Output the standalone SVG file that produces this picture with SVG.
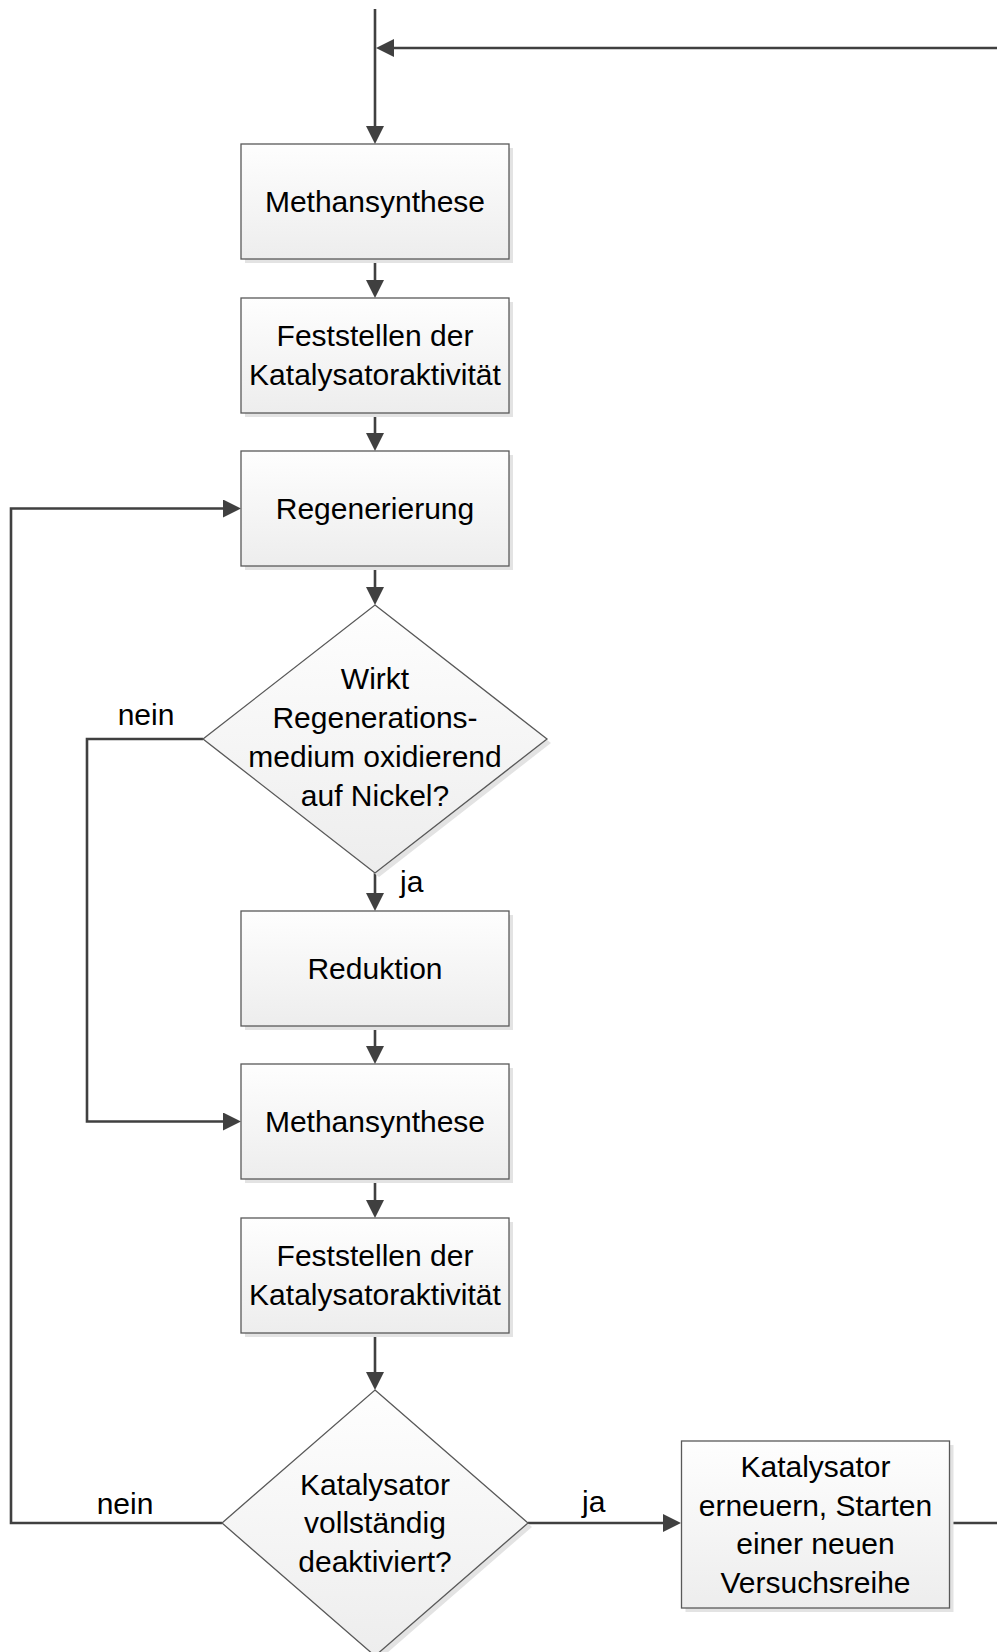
<svg xmlns="http://www.w3.org/2000/svg" width="997" height="1652" viewBox="0 0 997 1652">
  <defs>
    <linearGradient id="fill" x1="0" y1="0" x2="0" y2="1">
      <stop offset="0" stop-color="#fefefe"/>
      <stop offset="1" stop-color="#ededed"/>
    </linearGradient>
    <marker id="arrow" markerUnits="userSpaceOnUse" markerWidth="20" markerHeight="20" refX="10" refY="9" orient="auto">
      <path d="M0,0 L18,9 L0,18 Z" fill="#404040"/>
    </marker>
    <style>
      .shape { fill: url(#fill); stroke: #595959; stroke-width: 1.3; }
      .shadow { fill: #e3e3e3; stroke: none; }
      .conn { fill: none; stroke: #404040; stroke-width: 2.6; }
      .arr { marker-end: url(#arrow); }
      text { font-family: "Liberation Sans", Arial, sans-serif; font-size: 30px; fill: #000; }
      .c { text-anchor: middle; }
    </style>
  </defs>

  <rect width="997" height="1652" fill="#ffffff"/>

  <!-- connectors: line ends stop 8px short of the target, the marker tip covers the rest -->
  <g id="connectors">
    <path class="conn arr" d="M375,9 V136"/>
    <path class="conn arr" d="M997,48 H384"/>
    <path class="conn arr" d="M375,259 V290"/>
    <path class="conn arr" d="M375,413 V443"/>
    <path class="conn arr" d="M375,566 V597"/>
    <path class="conn arr" d="M375,873 V903"/>
    <path class="conn arr" d="M375,1026 V1056"/>
    <path class="conn arr" d="M375,1179 V1210"/>
    <path class="conn arr" d="M375,1333 V1382"/>
    <path class="conn arr" d="M203,739 H87 V1121.5 H233"/>
    <path class="conn arr" d="M222,1523 H11 V508.5 H233"/>
    <path class="conn arr" d="M528,1523 H673"/>
    <path class="conn" d="M950,1523 H997"/>
    <text x="146" y="725" class="c">nein</text>
    <text x="400" y="892">ja</text>
    <text x="125" y="1514" class="c">nein</text>
    <text x="582" y="1512">ja</text>
  </g>

  <g id="methansynthese-1">
    <rect class="shadow" x="245" y="148" width="268" height="115"/>
    <rect class="shape" x="241" y="144" width="268" height="115"/>
    <text x="375" y="212" class="c">Methansynthese</text>
  </g>

  <g id="aktivitaet-1">
    <rect class="shadow" x="245" y="302" width="268" height="115"/>
    <rect class="shape" x="241" y="298" width="268" height="115"/>
    <text x="375" y="346" class="c">Feststellen der</text>
    <text x="375" y="385" class="c">Katalysatoraktivität</text>
  </g>

  <g id="regenerierung">
    <rect class="shadow" x="245" y="455" width="268" height="115"/>
    <rect class="shape" x="241" y="451" width="268" height="115"/>
    <text x="375" y="519" class="c">Regenerierung</text>
  </g>

  <g id="frage-oxidierend">
    <polygon class="shadow" points="379,609 551,743 379,877 207,743"/>
    <polygon class="shape" points="375,605 547,739 375,873 203,739"/>
    <text x="375" y="689" class="c">Wirkt</text>
    <text x="375" y="728" class="c">Regenerations-</text>
    <text x="375" y="767" class="c">medium oxidierend</text>
    <text x="375" y="806" class="c">auf Nickel?</text>
  </g>

  <g id="reduktion">
    <rect class="shadow" x="245" y="915" width="268" height="115"/>
    <rect class="shape" x="241" y="911" width="268" height="115"/>
    <text x="375" y="979" class="c">Reduktion</text>
  </g>

  <g id="methansynthese-2">
    <rect class="shadow" x="245" y="1068" width="268" height="115"/>
    <rect class="shape" x="241" y="1064" width="268" height="115"/>
    <text x="375" y="1132" class="c">Methansynthese</text>
  </g>

  <g id="aktivitaet-2">
    <rect class="shadow" x="245" y="1222" width="268" height="115"/>
    <rect class="shape" x="241" y="1218" width="268" height="115"/>
    <text x="375" y="1266" class="c">Feststellen der</text>
    <text x="375" y="1305" class="c">Katalysatoraktivität</text>
  </g>

  <g id="frage-deaktiviert">
    <polygon class="shadow" points="379,1394 532,1527 379,1660 226,1527"/>
    <polygon class="shape" points="375,1390 528,1523 375,1656 222,1523"/>
    <text x="375" y="1495" class="c">Katalysator</text>
    <text x="375" y="1533" class="c">vollständig</text>
    <text x="375" y="1572" class="c">deaktiviert?</text>
  </g>

  <g id="neue-versuchsreihe">
    <rect class="shadow" x="685.5" y="1445" width="268" height="167"/>
    <rect class="shape" x="681.5" y="1441" width="268" height="167"/>
    <text x="815.5" y="1477" class="c">Katalysator</text>
    <text x="815.5" y="1516" class="c">erneuern, Starten</text>
    <text x="815.5" y="1554" class="c">einer neuen</text>
    <text x="815.5" y="1593" class="c">Versuchsreihe</text>
  </g>
</svg>
